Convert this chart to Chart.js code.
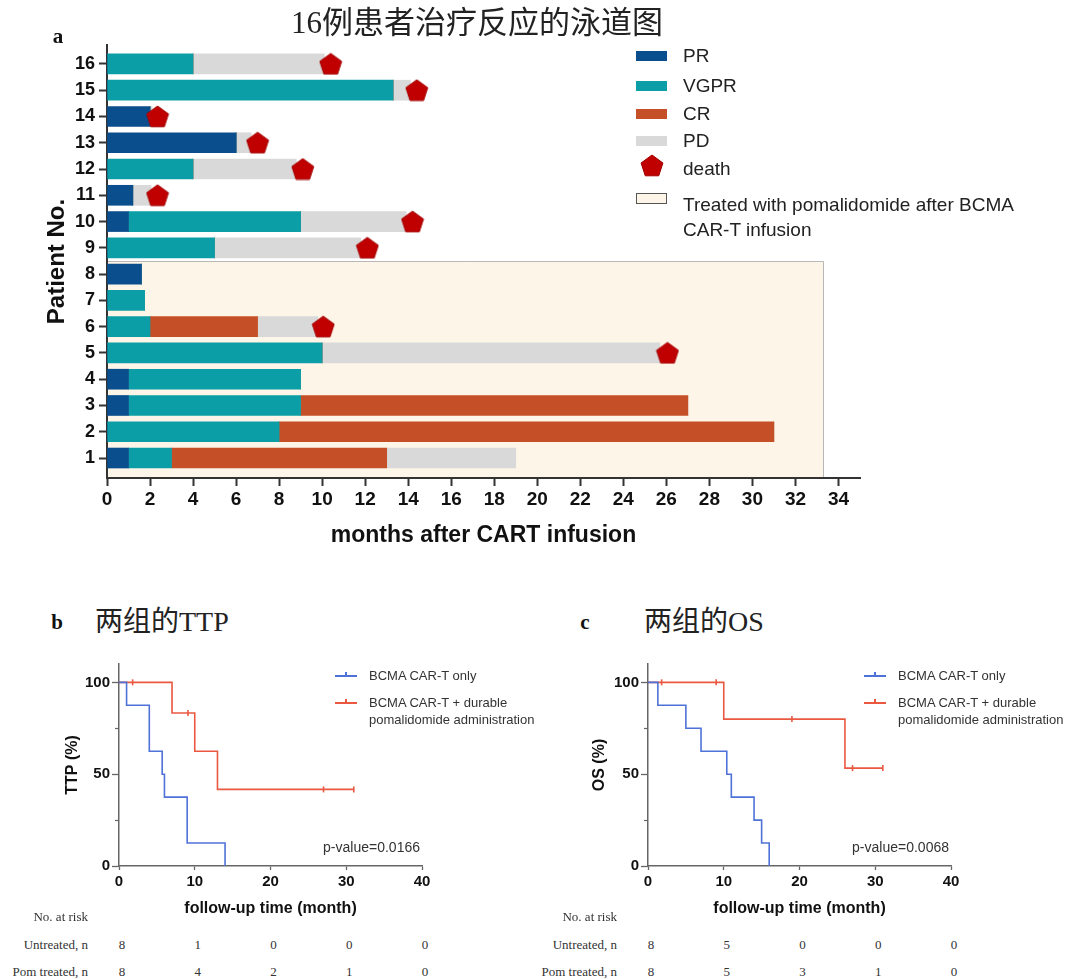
<!DOCTYPE html>
<html><head><meta charset="utf-8">
<script src="https://cdn.jsdelivr.net/npm/chart.js@4.4.1/dist/chart.umd.min.js"></script>
<style>
html,body{margin:0;padding:0;background:#fff;}
body{width:1080px;height:979px;position:relative;overflow:hidden;font-family:"Liberation Sans",Arial,sans-serif;}
.abs{position:absolute;white-space:nowrap;}
canvas{position:absolute;}
.serif{font-family:"Liberation Serif","Noto Sans CJK SC",serif;}
</style></head><body>
<canvas id="swim" width="1080" height="560" style="left:0;top:0"></canvas>
<canvas id="ttp" width="540" height="290" style="left:0;top:640px"></canvas>
<canvas id="os" width="540" height="290" style="left:540px;top:640px"></canvas>
<div id="overlay"></div>
<script>
// ---------------- DATA ----------------
const patients = [1,2,3,4,5,6,7,8,9,10,11,12,13,14,15,16];
// durations (months) of each response phase, patient 1..16
const prDur   = [1, 0, 1, 1, 0, 0, 0, 1.6, 0, 1, 1.2, 0, 6, 2, 0, 0];
const vgprDur = [2, 8, 8, 8, 10, 2, 1.75, 0, 5, 8, 0, 4, 0, 0, 13.3, 4];
const crDur   = [10, 23, 18, 0, 0, 5, 0, 0, 0, 0, 0, 0, 0, 0, 0, 0];
const pdDur   = [6, 0, 0, 0, 15.7, 2.8, 0, 0, 6.8, 4.9, 0.85, 4.8, 0.7, 0.1, 0.8, 6.1];
const deathTime = [null, null, null, null, 26.05, 10.05, null, null, 12.1, 14.2, 2.35, 9.1, 7.0, 2.35, 14.4, 10.4];
const monthTicks = [0,2,4,6,8,10,12,14,16,18,20,22,24,26,28,30,32,34];
const pomRegionEnd = 33.3;   // months
const pomRegionTop = 8.5;    // patients 1-8

// TTP (panel b)
const ttpOnlyT = [0, 1, 4, 5.7, 6, 9, 14];
const ttpOnlyS = [100, 87.5, 62.5, 50, 37.5, 12.5, 0];
const ttpPomT  = [0, 7, 10, 13, 31];
const ttpPomS  = [100, 83.3, 62.5, 41.7, 41.7];
const ttpPomCensorT = [1.8, 9.1, 27, 31];
const ttpPomCensorS = [100, 83.3, 41.7, 41.7];
// OS (panel c)
const osOnlyT = [0, 1.3, 5, 7, 10.4, 11, 14, 15, 16];
const osOnlyS = [100, 87.5, 75, 62.5, 50, 37.5, 25, 12.5, 0];
const osPomT  = [0, 10, 26, 31];
const osPomS  = [100, 80, 53.3, 53.3];
const osPomCensorT = [1.8, 9, 19, 27, 31];
const osPomCensorS = [100, 100, 80, 53.3, 53.3];

const kmXTicks = [0, 10, 20, 30, 40];
const kmYTicks = [0, 50, 100];
const kmYMinor = [25, 75];
const riskTimes = [0, 10, 20, 30, 40];
const ttpRiskUntreated = [8, 1, 0, 0, 0];
const ttpRiskPom       = [8, 4, 2, 1, 0];
const osRiskUntreated  = [8, 5, 0, 0, 0];
const osRiskPom        = [8, 5, 3, 1, 0];

// ---------------- STYLE ----------------
const COL = {PR:'#0b4e8d', VGPR:'#0c9ea6', CR:'#c54f27', PD:'#d9d9d9', death:'#c00000', pom:'#fdf5e8'};
const KMBLUE = '#4f72d8', KMRED = '#ea5842';
Chart.defaults.font.family = "'Liberation Sans', Arial, sans-serif";
Chart.defaults.animation = false;

function makePentagon(R, fill, stroke){
  const w = Math.ceil(2*R*Math.sin(0.4*Math.PI))+2, h = Math.ceil(R*(1+Math.cos(0.2*Math.PI)))+2;
  const c = document.createElement('canvas'); c.width = w; c.height = h;
  const g = c.getContext('2d');
  const cx = w/2, cy = 1 + R;
  g.beginPath();
  for (let k=0;k<5;k++){ const a=-Math.PI/2+k*2*Math.PI/5; const px=cx+R*Math.cos(a), py=cy+R*Math.sin(a); if(k) g.lineTo(px,py); else g.moveTo(px,py); }
  g.closePath(); g.fillStyle = fill; g.fill(); g.strokeStyle = stroke; g.lineWidth = 1; g.stroke();
  return c;
}
const pent = makePentagon(11.5, COL.death, '#a30000');

const pomPlugin = {
  id:'pom',
  beforeDraw(chart){
    const {ctx, chartArea:a, scales:{x, y}} = chart;
    const x0 = x.getPixelForValue(0), x1 = x.getPixelForValue(pomRegionEnd);
    const yt = y.getPixelForValue(pomRegionTop), yb = a.bottom;
    ctx.save();
    ctx.fillStyle = COL.pom; ctx.fillRect(x0, yt, x1-x0, yb-yt);
    ctx.strokeStyle = '#b8b8b8'; ctx.lineWidth = 1;
    ctx.beginPath(); ctx.moveTo(x0, Math.round(yt)+0.5); ctx.lineTo(Math.round(x1)+0.5, Math.round(yt)+0.5); ctx.lineTo(Math.round(x1)+0.5, yb); ctx.stroke();
    ctx.restore();
  }
};

const phases = [['PR', prDur], ['VGPR', vgprDur], ['CR', crDur], ['PD', pdDur]];
const barSets = phases.map(([name, arr]) => ({
  label: name, data: patients.map((p,i) => ({x: arr[i], y: p})),
  backgroundColor: COL[name], stack: 's', order: 1
}));
const deathPts = patients.map((p,i) => deathTime[i]==null ? null : {x: deathTime[i], y: p}).filter(Boolean);

new Chart(document.getElementById('swim'), {
  type: 'bar',
  data: { datasets: [
    {type:'scatter', label:'death', data: deathPts, pointStyle: pent, pointRadius: 10, order: 0, clip: false},
    ...barSets
  ]},
  options: {
    responsive: false, indexAxis: 'y',
    layout: {padding: {left: 40, right: 220, top: 45, bottom: 0}},
    datasets: {bar: {barThickness: 20, borderWidth: 0}},
    plugins: {legend: {display: false}, tooltip: {enabled: false}},
    scales: {
      x: {type:'linear', min:0, max:35, stacked:true,
        afterBuildTicks: s => { s.ticks = monthTicks.map(v => ({value: v})); },
        afterFit: s => { s.height = 82; },
        ticks: {autoSkip:false, maxRotation:0, padding:2, color:'#111', font:{size:19, weight:'bold'}},
        grid: {drawOnChartArea:false, drawTicks:true, tickLength:8, tickColor:'#333', tickWidth:2},
        border: {display:true, color:'#333', width:2},
        title: {display:true, text:'months after CART infusion', color:'#111', font:{size:23, weight:'bold'}, padding:{top:0, bottom:11}}
      },
      y: {type:'linear', min:0.24, max:16.72, stacked:true, offset:false,
        afterBuildTicks: s => { s.ticks = patients.map(v => ({value: v})); },
        afterFit: s => { s.width = 67; },
        ticks: {autoSkip:false, padding:4, color:'#111', font:{size:18, weight:'bold'}},
        grid: {offset:false, drawOnChartArea:false, drawTicks:true, tickLength:8, tickColor:'#333', tickWidth:2},
        border: {display:true, color:'#333', width:2},
        title: {display:true, text:'Patient No.', color:'#111', font:{size:24, weight:'bold'}, padding:{top:3, bottom:0}}
      }
    }
  },
  plugins: [pomPlugin]
});

// ---------- KM charts ----------
const minorPlugin = {
  id:'minor',
  afterDraw(chart){
    const {ctx, scales:{x, y}} = chart;
    ctx.save(); ctx.strokeStyle = '#666'; ctx.lineWidth = 1.2;
    kmYMinor.forEach(v => { const py = Math.round(y.getPixelForValue(v))+0.5; ctx.beginPath(); ctx.moveTo(x.left-4, py); ctx.lineTo(x.left, py); ctx.stroke(); });
    ctx.restore();
  }
};
function pts(T, S){ return T.map((t,i) => ({x:t, y:S[i]})); }
function kmChart(id, cfg){
  return new Chart(document.getElementById(id), {
    type: 'line',
    data: { datasets: [
      {label:'BCMA CAR-T only', data: pts(cfg.aT, cfg.aS), stepped: true, borderColor: KMBLUE, borderWidth: 1.6, pointRadius: 0, fill:false, clip:false},
      {label:'BCMA CAR-T + durable pomalidomide administration', data: pts(cfg.bT, cfg.bS), stepped: true, borderColor: KMRED, borderWidth: 1.6, pointRadius: 0, fill:false, clip:false},
      {type:'scatter', label:'censored', data: pts(cfg.cT, cfg.cS), pointStyle:'line', pointRotation: 90, pointRadius: 3, pointBorderColor: KMRED, pointBorderWidth: 1.6, clip:false}
    ]},
    options: {
      responsive:false,
      layout: {padding: {left: cfg.padL, right: cfg.padR, top: 24, bottom: 0}},
      plugins: {legend:{display:false}, tooltip:{enabled:false}},
      scales: {
        x: {type:'linear', min:0, max:40,
          afterBuildTicks: s => { s.ticks = kmXTicks.map(v => ({value:v})); },
          afterFit: s => { s.height = 64; },
          ticks: {autoSkip:false, maxRotation:0, padding:3, color:'#111', font:{size:15, weight:'bold'}},
          grid: {drawOnChartArea:false, drawTicks:true, tickLength:4, tickColor:'#666', tickWidth:1.3},
          border: {display:true, color:'#666', width:1.5},
          title: {display:true, text:'follow-up time (month)', color:'#111', font:{size:16, weight:'bold'}, padding:{top:0, bottom:12}}
        },
        y: {type:'linear', min:0, max:110,
          afterBuildTicks: s => { s.ticks = kmYTicks.map(v => ({value:v})); },
          afterFit: s => { s.width = cfg.yW; },
          ticks: {autoSkip:false, padding:2, color:'#111', font:{size:15, weight:'bold'}},
          grid: {drawOnChartArea:false, drawTicks:true, tickLength:7, tickColor:'#666', tickWidth:1.3},
          border: {display:true, color:'#666', width:1.5},
          title: {display:true, text: cfg.yTitle, color:'#111', font:{size:16, weight:'bold'}, padding:{top:3, bottom:0}}
        }
      }
    },
    plugins: [minorPlugin]
  });
}
const chB = kmChart('ttp', {aT:ttpOnlyT, aS:ttpOnlyS, bT:ttpPomT, bS:ttpPomS, cT:ttpPomCensorT, cS:ttpPomCensorS, padL:60, yW:59, padR:118, yTitle:'TTP (%)'});
const chC = kmChart('os',  {aT:osOnlyT, aS:osOnlyS, bT:osPomT, bS:osPomS, cT:osPomCensorT, cS:osPomCensorS, padL:47, yW:61, padR:129, yTitle:'OS (%)'});

// ---------- text overlay ----------
const ov = document.getElementById('overlay');
function addText(html, css, cls){ const d = document.createElement('div'); d.className = 'abs' + (cls ? ' '+cls : ''); d.innerHTML = html; d.style.cssText += css; ov.appendChild(d); return d; }

addText('16例患者治疗反应的泳道图', 'left:0;width:954px;text-align:center;top:5px;font-size:31px;line-height:35px;color:#222;', 'serif');
addText('a', 'left:48px;width:20px;text-align:center;top:24px;font-size:21px;line-height:24px;font-weight:bold;color:#111;', 'serif');
addText('b', 'left:47px;width:20px;text-align:center;top:610px;font-size:21px;line-height:24px;font-weight:bold;color:#111;', 'serif');
addText('c', 'left:575px;width:20px;text-align:center;top:610px;font-size:21px;line-height:24px;font-weight:bold;color:#111;', 'serif');
addText('两组的TTP', 'left:95px;top:605px;font-size:28px;line-height:34px;color:#222;', 'serif');
addText('两组的OS', 'left:644px;top:605px;font-size:28px;line-height:34px;color:#222;', 'serif');

// top legend
const legRows = [['PR',55.5],['VGPR',85.5],['CR',113.5],['PD',141]];
legRows.forEach(([name, cy]) => {
  addText('', `left:636px;top:${cy-5}px;width:31px;height:10px;background:${COL[name]};`);
  addText(name, `left:683px;top:${cy-11}px;font-size:19px;line-height:22px;color:#222;`);
});
const lp = makePentagon(11.5, COL.death, '#a30000');
lp.style.cssText = 'position:absolute;left:640px;top:154px;';
ov.appendChild(lp);
addText('death', 'left:683px;top:158px;font-size:19px;line-height:22px;color:#222;');
addText('', `left:636px;top:193px;width:29px;height:9px;background:${COL.pom};border:1px solid #555;`);
addText('Treated with pomalidomide after BCMA<br>CAR-T infusion', 'left:683px;top:192px;font-size:19px;line-height:25px;color:#222;');

// KM legends, p-values, risk tables
function kmDecor(chart, canvasLeft, dx, pval, risk1, risk2){
  const legX = 335 + dx;
  [[KMBLUE, 676], [KMRED, 703]].forEach(([c, y]) => {
    addText('', `left:${legX}px;top:${y-0.75}px;width:22px;height:1.5px;background:${c};`);
    addText('', `left:${legX+10}px;top:${y-4}px;width:1.5px;height:4px;background:${c};`);
  });
  addText('BCMA CAR-T only', `left:${legX+34}px;top:668px;font-size:13px;line-height:16px;color:#333;`);
  addText('BCMA CAR-T + durable<br>pomalidomide administration', `left:${legX+34}px;top:695px;font-size:13px;line-height:16.5px;color:#333;`);
  const xs = chart.scales.x;
  const axisRight = canvasLeft + xs.getPixelForValue(40);
  addText(pval, `right:${1080 - axisRight + 2}px;top:838px;font-size:14px;line-height:18px;color:#333;`);
  const labR = canvasLeft + xs.getPixelForValue(0) - 31;
  addText('No. at risk', `right:${1080-labR}px;top:909px;font-size:13px;line-height:16px;color:#333;`, 'serif');
  addText('Untreated, n', `right:${1080-labR}px;top:937px;font-size:13px;line-height:16px;color:#333;`, 'serif');
  addText('Pom treated, n', `right:${1080-labR}px;top:964px;font-size:13px;line-height:16px;color:#333;`, 'serif');
  riskTimes.forEach((t,i) => {
    const px = canvasLeft + xs.getPixelForValue(t) + 3;
    addText(String(risk1[i]), `left:${px-10}px;width:20px;text-align:center;top:937px;font-size:13px;line-height:16px;color:#333;`, 'serif');
    addText(String(risk2[i]), `left:${px-10}px;width:20px;text-align:center;top:964px;font-size:13px;line-height:16px;color:#333;`, 'serif');
  });
}
kmDecor(chB, 0, 0, 'p-value=0.0166', ttpRiskUntreated, ttpRiskPom);
kmDecor(chC, 540, 529, 'p-value=0.0068', osRiskUntreated, osRiskPom);
</script>
</body></html>
